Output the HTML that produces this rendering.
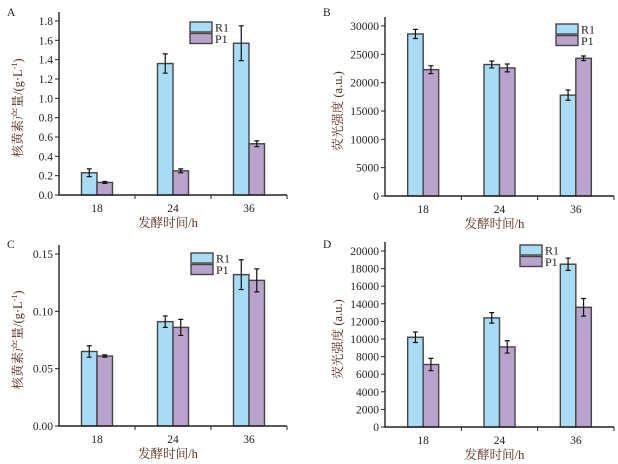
<!DOCTYPE html>
<html><head><meta charset="utf-8"><style>
body{margin:0;background:#fff}
svg{display:block;font-family:"Liberation Serif","Noto Serif CJK SC",serif}
</style></head><body>
<svg id="chart" width="618" height="464" viewBox="0 0 618 464" xmlns="http://www.w3.org/2000/svg"></svg>
<script>
const categories = ["18","24","36"];
const seriesNames = ["R1","P1"];
const aR1 = [0.23,1.36,1.57], aR1Err = [0.04,0.1,0.18];
const aP1 = [0.13,0.25,0.53], aP1Err = [0.01,0.02,0.03];
const aTicks = ["0.0","0.2","0.4","0.6","0.8","1.0","1.2","1.4","1.6","1.8"];
const bR1 = [28600,23200,17800], bR1Err = [800,600,900];
const bP1 = [22300,22600,24300], bP1Err = [700,700,400];
const bTicks = ["0","5000","10000","15000","20000","25000","30000"];
const cR1 = [0.065,0.091,0.132], cR1Err = [0.005,0.005,0.013];
const cP1 = [0.061,0.086,0.127], cP1Err = [0.001,0.007,0.010];
const cTicks = ["0.00","0.05","0.10","0.15"];
const dR1 = [10200,12400,18500], dR1Err = [600,600,700];
const dP1 = [7100,9100,13600], dP1Err = [700,700,1000];
const dTicks = ["0","2000","4000","6000","8000","10000","12000","14000","16000","18000","20000"];

const NS="http://www.w3.org/2000/svg";
const svg=document.getElementById('chart');
function mk(tag,attrs,parent,txt){const e=document.createElementNS(NS,tag);for(const k in attrs)e.setAttribute(k,attrs[k]);if(txt!==undefined)e.textContent=txt;(parent||svg).appendChild(e);return e;}
const colors=["#a8dcf4","#b9a2cc"];

function panel(cfg){
  const g=mk('g',{});
  
  
  const x0=cfg.x0,x1=cfg.x1,yB=cfg.yBottom,yT=cfg.yTopTick;
  const tickVals=cfg.ticks.map(Number);
  const vmax=tickVals[tickVals.length-1];
  const y=v=>yB-(v/vmax)*(yB-yT);
  const cw=(x1-x0)/categories.length;
  const bw=15.5;
  const lt=mk('text',{x:cfg.lx,y:cfg.ly,'font-size':11.5,fill:'#222'},g,cfg.letter);
  
  const series=[[cfg.r1,cfg.r1e],[cfg.p1,cfg.p1e]];
  series.forEach((s,si)=>{
    categories.forEach((c,ci)=>{
      const cx=x0+cw*(ci+0.5);
      const bx=cx-bw+si*bw;
      const r=mk('rect',{x:bx,y:y(s[0][ci]),width:bw,height:yB-y(s[0][ci]),fill:colors[si],stroke:'#444','stroke-width':1.4},g);
      
      
      const mx=bx+bw/2,hi=y(s[0][ci]+s[1][ci]),lo=y(s[0][ci]-s[1][ci]);
      const eb=mk('path',{d:`M${mx},${hi}V${lo}M${mx-2.5},${hi}H${mx+2.5}M${mx-2.5},${lo}H${mx+2.5}`,stroke:'#111','stroke-width':1.2,fill:'none'},g);
      
      
    });
  });
  const ax=mk('path',{d:`M${x0},${yT-9}V${yB}H${x1}`,stroke:'#222','stroke-width':1.4,fill:'none'},g);
  
  cfg.ticks.forEach((t,i)=>{
    const yy=y(tickVals[i]);
    mk('line',{x1:x0-4,x2:x0,y1:yy,y2:yy,stroke:'#222','stroke-width':1},g);
    const tl=mk('text',{x:x0-6,y:yy+4,'font-size':11.5,'text-anchor':'end',fill:'#222'},g,t);
    
  });
  for(let i=1;i<=categories.length;i++){
    const xx=x0+cw*i;mk('line',{x1:xx,x2:xx,y1:yB,y2:yB+4,stroke:'#222','stroke-width':1},g);
  }
  categories.forEach((c,ci)=>{
    const xl=mk('text',{x:x0+cw*(ci+0.5),y:yB+17,'font-size':11.5,'text-anchor':'middle',fill:'#222'},g,c);
    
  });
  const xt=mk('text',{x:(x0+x1)/2-5,y:yB+32,'font-size':12.5,'text-anchor':'middle',fill:'#5a2a1a'},g,'发酵时间/h');
  
  const ymid=(yB+yT)/2;
  const ytt=mk('text',{x:cfg.ytx,y:ymid,'font-size':12.5,'text-anchor':'middle',fill:'#5a2a1a',transform:`rotate(-90 ${cfg.ytx} ${ymid})`},g);
  if(cfg.sup){ytt.textContent='核黄素产量/(g·L';mk('tspan',{'font-size':8,dy:-5},ytt,'-1');mk('tspan',{dy:5},ytt,')');}
  else ytt.textContent='荧光强度 (a.u.)';
  
  seriesNames.forEach((n,i)=>{
    const ly=cfg.legY+i*11.5;
    const lr=mk('rect',{x:cfg.legX,y:ly,width:22,height:10,fill:colors[i],stroke:'#444','stroke-width':1.4},g);
    
    const lt2=mk('text',{x:cfg.legX+25,y:ly+9.5,'font-size':12,fill:'#222'},g,n);
    
  });
}
panel({letter:'A',lx:7,ly:16,x0:59,x1:287,yBottom:195,yTopTick:21,ticks:aTicks,r1:aR1,r1e:aR1Err,p1:aP1,p1e:aP1Err,ytx:22,sup:true,legX:190,legY:22});
panel({letter:'B',lx:323,ly:16,x0:385,x1:614,yBottom:196,yTopTick:26,ticks:bTicks,r1:bR1,r1e:bR1Err,p1:bP1,p1e:bP1Err,ytx:342,sup:false,legX:556,legY:24});
panel({letter:'C',lx:7,ly:248,x0:59,x1:287,yBottom:426,yTopTick:254,ticks:cTicks,r1:cR1,r1e:cR1Err,p1:cP1,p1e:cP1Err,ytx:22,sup:true,legX:191,legY:253});
panel({letter:'D',lx:323,ly:248,x0:385,x1:614,yBottom:427,yTopTick:251,ticks:dTicks,r1:dR1,r1e:dR1Err,p1:dP1,p1e:dP1Err,ytx:342,sup:false,legX:520,legY:245});
</script>
</body></html>
